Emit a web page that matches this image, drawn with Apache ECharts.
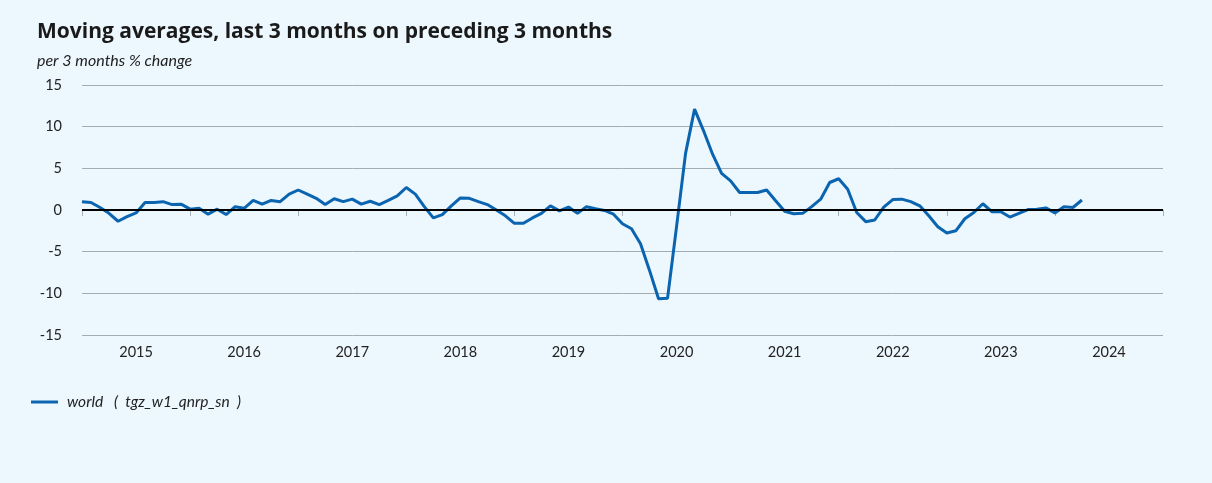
<!DOCTYPE html>
<html lang="en">
<head>
    <meta charset="UTF-8">
    <title>Moving averages</title>
    <script src="https://cdn.jsdelivr.net/npm/echarts@6/dist/echarts.min.js"></script>
    <style>
        html, body { margin: 0; padding: 0; background: #edf7fe; }
    </style>
</head>
<body>
    <div id="main" style="width: 1212px;height: 483px"></div>
    <script>
        // years shown on the x axis, monthly data starts Jan 2015
        var years = ['2015', '2016', '2017', '2018', '2019', '2020', '2021', '2022', '2023', '2024'];
        var yTicks = [-15, -10, -5, 0, 5, 10, 15];
        // world (tgz_w1_qnrp_sn), per 3 months % change, Jan 2015 .. Apr 2024
        var world = [
            1.0, 0.9, 0.3, -0.4, -1.35, -0.8, -0.35, 0.9, 0.9, 1.0, 0.65, 0.7,
            0.1, 0.2, -0.5, 0.1, -0.55, 0.4, 0.2, 1.15, 0.7, 1.15, 1.0, 1.9,
            2.4, 1.9, 1.4, 0.65, 1.35, 1.0, 1.3, 0.7, 1.05, 0.65, 1.15, 1.7,
            2.7, 1.9, 0.4, -0.95, -0.55, 0.5, 1.45, 1.4, 1.0, 0.65, 0.0, -0.7,
            -1.6, -1.6, -0.95, -0.4, 0.5, -0.1, 0.35, -0.4, 0.4, 0.15, -0.05, -0.5,
            -1.65, -2.25, -4.05, -7.25, -10.65, -10.6, -2.0, 6.8, 12.1, 9.5, 6.7, 4.4,
            3.5, 2.1, 2.1, 2.1, 2.4, 1.1, -0.15, -0.45, -0.4, 0.4, 1.3, 3.3,
            3.75, 2.5, -0.3, -1.4, -1.2, 0.35, 1.25, 1.3, 1.0, 0.5, -0.7, -2.0,
            -2.75, -2.5, -1.05, -0.3, 0.75, -0.2, -0.2, -0.85, -0.4, 0.05, 0.1, 0.25,
            -0.35, 0.4, 0.3, 1.2
        ];

        var mCharts = echarts.init(document.getElementById('main'));
        var font = 'Lato';
        var option = {
            backgroundColor: '#edf7fe',
            animation: false,
            textStyle: { fontFamily: font },
            title: {
                text: 'Moving averages, last 3 months on preceding 3 months',
                subtext: 'per 3 months % change',
                left: 32,
                top: 17,
                itemGap: 10,
                textStyle: { fontFamily: 'Open Sans', fontSize: 21, fontWeight: 'bold', color: '#1a1a1a' },
                subtextStyle: { fontFamily: font, fontSize: 16, fontStyle: 'italic', color: '#222' }
            },
            legend: {
                left: 26,
                top: 389,
                icon: 'rect',
                itemWidth: 27,
                itemHeight: 3,
                itemGap: 10,
                textStyle: { fontFamily: font, fontSize: 15.5, fontStyle: 'italic', color: '#222', padding: [0, 0, 0, 4] },
                data: ['world   (  tgz_w1_qnrp_sn  )']
            },
            grid: { left: 82, right: 49, top: 85, bottom: 148 },
            xAxis: [
                {
                    type: 'category',
                    data: years,
                    boundaryGap: true,
                    axisLine: { show: true, lineStyle: { color: '#a9b3bc', width: 1 } },
                    axisTick: { show: true, length: 6, lineStyle: { color: '#a9b3bc' } },
                    axisLabel: { fontSize: 14.5, color: '#222', margin: 10 },
                    splitLine: { show: false }
                },
                {
                    type: 'value',
                    min: 0,
                    max: 120,
                    show: false
                }
            ],
            yAxis: {
                type: 'value',
                min: yTicks[0],
                max: yTicks[yTicks.length - 1],
                interval: 5,
                axisLine: { show: false },
                axisTick: { show: false },
                axisLabel: { fontSize: 14.5, color: '#222', margin: 20 },
                splitLine: { show: true, lineStyle: { color: '#a3abb3', width: 1 } }
            },
            series: [
                {
                    name: 'world   (  tgz_w1_qnrp_sn  )',
                    type: 'line',
                    xAxisIndex: 1,
                    symbol: 'none',
                    color: '#0a64b0',
                    lineStyle: { width: 3, color: '#0a64b0' },
                    data: world.map(function (v, i) { return [i, v]; }),
                    markLine: {
                        silent: true,
                        symbol: 'none',
                        label: { show: false },
                        lineStyle: { color: '#000', width: 2, type: 'solid' },
                        data: [{ yAxis: 0 }]
                    }
                }
            ]
        };
        mCharts.setOption(option);
    </script>
</body>
</html>
